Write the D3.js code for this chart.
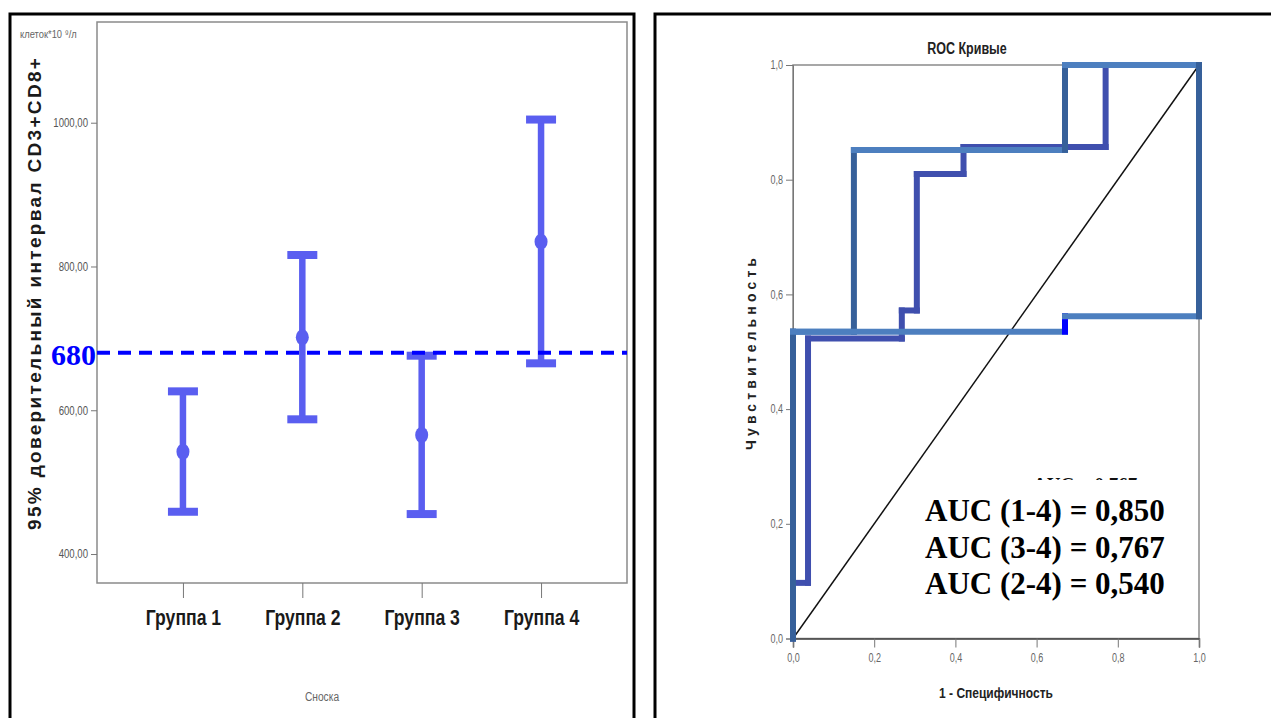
<!DOCTYPE html>
<html>
<head>
<meta charset="utf-8">
<script src="https://cdn.jsdelivr.net/npm/d3@7"></script>
<style>
  html, body { margin: 0; padding: 0; background: #fff; }
  svg { display: block; }
  text { font-family: "Liberation Sans", Arial, sans-serif; }
</style>
</head>
<body>
<svg id="chart" width="1271" height="718"></svg>
<script>
// ---- Left chart: 95% CI of CD3+CD8+ per group ----
const groups = ["Группа 1", "Группа 2", "Группа 3", "Группа 4"];
const ciLow  = [458.8, 587.4, 455.6, 665.3];
const ciMean = [542.3, 701.5, 565.6, 834.5];
const ciHigh = [626.3, 816.0, 675.9, 1004.4];
const leftTicks = [400, 600, 800, 1000];
const threshold = 680;

// ---- Right chart: ROC curves (1 - specificity, sensitivity) ----
const roc14 = [[0,0],[0,0.535],[0.15,0.535],[0.15,0.852],[0.67,0.852],[0.67,1],[1,1]];
const roc34 = [[0,0],[0,0.097],[0.037,0.097],[0.037,0.523],[0.268,0.523],[0.268,0.572],
               [0.305,0.572],[0.305,0.81],[0.42,0.81],[0.42,0.857],[0.77,0.857],[0.77,1],[1,1]];
const roc24 = [[0,0],[0,0.535],[0.67,0.535],[0.67,0.562],[1,0.562],[1,1]];
const aucLabels = ["AUC (1-4) = 0,850", "AUC (3-4) = 0,767", "AUC (2-4) = 0,540"];
const rocTicks = [0, 0.2, 0.4, 0.6, 0.8, 1.0];

const svg = d3.select("#chart");
const fmt2 = d => d3.format(".2f")(d).replace(".", ",");
const fmt1 = d => d3.format(".1f")(d).replace(".", ",");

// squeeze text horizontally to mimic a narrow face
function condense(sel, k) {
  sel.each(function () {
    const w = this.getComputedTextLength();
    d3.select(this).attr("textLength", w * k).attr("lengthAdjust", "spacingAndGlyphs");
  });
}

// outer panel borders
svg.append("rect").attr("x", 10).attr("y", 14).attr("width", 624).attr("height", 720)
  .attr("fill", "none").attr("stroke", "#000").attr("stroke-width", 3);
svg.append("rect").attr("x", 655).attr("y", 14).attr("width", 630).attr("height", 720)
  .attr("fill", "none").attr("stroke", "#000").attr("stroke-width", 3);

// ================= LEFT =================
const L = { x0: 97, x1: 627, y0: 22, y1: 583 };
const xL = d3.scalePoint().domain(groups).range([L.x0, L.x1]).padding(0.72);
const yL = d3.scaleLinear().domain([359.7, 1140.1]).range([L.y1, L.y0]);

svg.append("rect").attr("x", L.x0).attr("y", L.y0).attr("width", L.x1 - L.x0).attr("height", L.y1 - L.y0)
  .attr("fill", "#fff").attr("stroke", "#8a8a8a").attr("stroke-width", 1.5);

const gyL = svg.append("g").attr("transform", `translate(${L.x0},0)`)
  .call(d3.axisLeft(yL).tickValues(leftTicks).tickSize(6).tickFormat(fmt2));
gyL.select(".domain").remove();
gyL.selectAll("line").attr("stroke", "#777");
gyL.selectAll("text").attr("fill", "#555").style("font-size", "12px")
  .style("font-family", "'Liberation Sans', Arial, sans-serif").call(condense, 0.8);

const gxL = svg.append("g").attr("transform", `translate(0,${L.y1})`)
  .call(d3.axisBottom(xL).tickSize(15).tickPadding(10));
gxL.select(".domain").remove();
gxL.selectAll("line").attr("stroke", "#777");
gxL.selectAll("text").attr("fill", "#1a1a1a").style("font-size", "22px").style("font-weight", "bold")
  .style("font-family", "'Liberation Sans', Arial, sans-serif").attr("dy", "0.75em").call(condense, 0.8);

// units note
svg.append("text").attr("x", 20).attr("y", 38).attr("fill", "#666")
  .style("font-size", "11px").text("клеток*10 ⁹/л").call(condense, 0.85);

// y title
svg.append("text")
  .attr("transform", "translate(41,294) rotate(-90)")
  .attr("text-anchor", "middle").attr("fill", "#1a1a1a")
  .style("font-size", "19px").style("font-weight", "bold")
  .attr("textLength", 472).attr("lengthAdjust", "spacing")
  .text("95% доверительный интервал CD3+CD8+");

// x footnote
svg.append("text").attr("x", 322).attr("y", 701).attr("text-anchor", "middle")
  .attr("fill", "#666").style("font-size", "12px").text("Сноска").call(condense, 0.85);

// error bars
const barColor = "#5a5ef0";
const bars = svg.append("g").selectAll("g").data(groups).join("g");
bars.append("line")
  .attr("x1", d => xL(d)).attr("x2", d => xL(d))
  .attr("y1", (d, i) => yL(ciHigh[i])).attr("y2", (d, i) => yL(ciLow[i]))
  .attr("stroke", barColor).attr("stroke-width", 6.5);
[ciHigh, ciLow].forEach(arr => {
  bars.append("line")
    .attr("x1", d => xL(d) - 15).attr("x2", d => xL(d) + 15)
    .attr("y1", (d, i) => yL(arr[i])).attr("y2", (d, i) => yL(arr[i]))
    .attr("stroke", barColor).attr("stroke-width", 8);
});
bars.append("ellipse")
  .attr("cx", d => xL(d)).attr("cy", (d, i) => yL(ciMean[i]))
  .attr("rx", 6.5).attr("ry", 8).attr("fill", barColor);

// threshold line
svg.append("line").attr("x1", L.x0).attr("x2", L.x1)
  .attr("y1", yL(threshold)).attr("y2", yL(threshold))
  .attr("stroke", "#0000ff").attr("stroke-width", 4).attr("stroke-dasharray", "13,8");
svg.append("text").attr("x", 96).attr("y", yL(threshold) + 12).attr("text-anchor", "end")
  .attr("fill", "#0000ff").style("font-family", "'Liberation Serif', 'Times New Roman', serif")
  .style("font-size", "30px").style("font-weight", "bold").text(threshold);

// ================= RIGHT =================
const R = { x0: 793, x1: 1199, y0: 65, y1: 638.5 };
const xR = d3.scaleLinear().domain([0, 1]).range([R.x0, R.x1]);
const yR = d3.scaleLinear().domain([0, 1]).range([R.y1, R.y0]);

svg.append("rect").attr("x", R.x0).attr("y", R.y0).attr("width", R.x1 - R.x0).attr("height", R.y1 - R.y0)
  .attr("fill", "#fff").attr("stroke", "#8a8a8a").attr("stroke-width", 1.5);

const gyR = svg.append("g").attr("transform", `translate(${R.x0},0)`)
  .call(d3.axisLeft(yR).tickValues(rocTicks).tickSize(7).tickFormat(fmt1));
gyR.select(".domain").attr("stroke", "#777");
gyR.selectAll("line").attr("stroke", "#777");
gyR.selectAll("text").attr("fill", "#666").style("font-size", "12px").call(condense, 0.75);

const gxR = svg.append("g").attr("transform", `translate(0,${R.y1})`)
  .call(d3.axisBottom(xR).tickValues(rocTicks).tickSize(9).tickPadding(6).tickFormat(fmt1));
gxR.select(".domain").attr("stroke", "#444").attr("stroke-width", 1.5);
gxR.selectAll("line").attr("stroke", "#777");
gxR.selectAll("text").attr("fill", "#666").style("font-size", "12px").call(condense, 0.75);

svg.append("text").attr("x", 967).attr("y", 54).attr("text-anchor", "middle").attr("fill", "#222")
  .style("font-size", "16px").style("font-weight", "bold").text("ROC Кривые").call(condense, 0.78);
svg.append("text").attr("x", 996).attr("y", 698).attr("text-anchor", "middle").attr("fill", "#222")
  .style("font-size", "15px").style("font-weight", "bold").text("1 - Специфичность").call(condense, 0.8);
svg.append("text").attr("transform", "translate(756,354) rotate(-90)")
  .attr("text-anchor", "middle").attr("fill", "#222")
  .style("font-size", "14px").style("font-weight", "bold")
  .attr("textLength", 192).attr("lengthAdjust", "spacing").text("Чувствительность");

// reference diagonal
svg.append("line").attr("x1", xR(0)).attr("y1", yR(0)).attr("x2", xR(1)).attr("y2", yR(1))
  .attr("stroke", "#111").attr("stroke-width", 1.5);

// step curves drawn segment by segment
const dark = "#36609a", light = "#4d7fbf", indigo = "#3f4fae", pure = "#0000ff";
function drawCurve(points, colorOf) {
  const segs = d3.pairs(points).filter(([a, b]) => a[0] !== b[0] || a[1] !== b[1]);
  svg.append("g").selectAll("line").data(segs).join("line")
    .attr("x1", d => xR(d[0][0])).attr("y1", d => yR(d[0][1]))
    .attr("x2", d => xR(d[1][0])).attr("y2", d => yR(d[1][1]))
    .attr("stroke", colorOf).attr("stroke-width", 6).attr("stroke-linecap", "square");
}
const byDirection = ([a, b]) => (a[0] === b[0] ? (Math.abs(b[1] - a[1]) < 0.05 ? pure : dark) : light);
drawCurve(roc34, () => indigo);
drawCurve(roc14, byDirection);
drawCurve(roc24, byDirection);

// partially covered caption
svg.append("text").attr("x", 1033).attr("y", 491).attr("fill", "#111")
  .style("font-family", "'Liberation Serif', 'Times New Roman', serif")
  .style("font-size", "19px").style("font-weight", "bold").text("AUC = 0,767");
svg.append("rect").attr("x", 907).attr("y", 480).attr("width", 285).attr("height", 128).attr("fill", "#fff");

// AUC annotations
svg.append("g").selectAll("text").data(aucLabels).join("text")
  .attr("x", 925).attr("y", (d, i) => 521 + i * 36.7)
  .attr("fill", "#000")
  .style("font-family", "'Liberation Serif', 'Times New Roman', serif")
  .style("font-size", "31px").style("font-weight", "bold")
  .text(d => d);
</script>
</body>
</html>
